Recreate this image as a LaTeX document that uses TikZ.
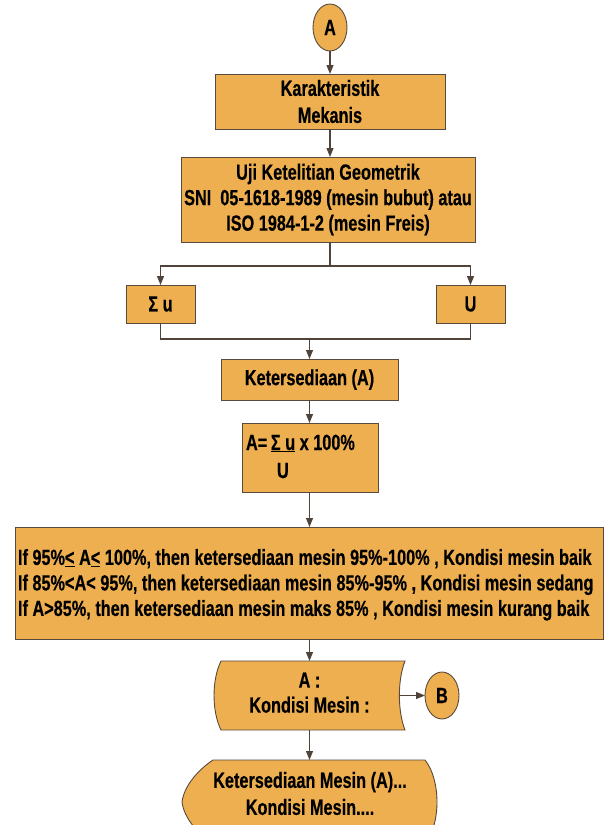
\documentclass[tikz,border=0pt]{standalone}
\usepackage{fontspec}
\setmainfont{Liberation Sans}[FakeStretch=0.74, BoldFeatures={FakeBold=0.4}]
\usetikzlibrary{shapes.geometric,arrows.meta}
\definecolor{orc}{RGB}{238,175,80}
\definecolor{bordc}{RGB}{88,74,60}
\definecolor{linec}{RGB}{80,68,58}
\begin{document}
\begin{tikzpicture}[x=1pt,y=-1pt,
  every node/.style={font=\bfseries\fontsize{22}{26}\selectfont, inner sep=0pt, outer sep=0pt},
  box/.style={draw=bordc, fill=orc, line width=0.9pt, rectangle, align=center},
  conn/.style={draw=bordc, fill=orc, line width=0.9pt, ellipse, minimum width=34pt, minimum height=47pt},
  arr/.style={draw=linec, line width=1.1pt, -{Triangle[length=9pt,width=7pt]}},
  ln/.style={draw=linec, line width=1.1pt},
  shp/.style={draw=bordc, fill=orc, line width=0.9pt}
]
\useasboundingbox (0,0) rectangle (604,825);
\clip (0,0) rectangle (604,825);

\node[conn] (A) at (330,27.5) {A};
\node[box, minimum width=230pt, minimum height=55pt, font=\bfseries\fontsize{22}{27}\selectfont] (kar) at (330,101.5) {Karakteristik\\Mekanis};
\node[box, minimum width=294pt, minimum height=85pt, font=\bfseries\fontsize{22}{25.5}\selectfont] (uji) at (328,199.5) {Uji Ketelitian Geometrik\\SNI\ \ 05-1618-1989 (mesin bubut) atau\\ISO 1984-1-2 (mesin Freis)};
\node[box, minimum width=69pt, minimum height=38pt] (su) at (160.5,304) {Σ u};
\node[box, minimum width=69pt, minimum height=38pt] (U) at (470.5,304) {U};
\node[box, minimum width=177pt, minimum height=41pt] (ket) at (309.5,379.5) {Ketersediaan (A)};
\node[box, minimum width=136pt, minimum height=69pt] (aeq) at (310,457.5) {};
\node[anchor=base west] (aeqt) at (246,450) {A=\,\underline{Σ u} x 100\%};
\node[anchor=base west] (aequ) at (277,478) {U};
\node[box, minimum width=588pt, minimum height=112pt] (wide) at (309,583) {};
\node[anchor=west, align=left, font=\bfseries\fontsize{22}{25.5}\selectfont] (widet) at (18,584.8) {If 95\%\underline{<} A\underline{<} 100\%, then ketersediaan mesin 95\%-100\% , Kondisi mesin baik\\If 85\%<A< 95\%, then ketersediaan mesin 85\%-95\% , Kondisi mesin sedang\\If A>85\%, then ketersediaan mesin maks 85\% , Kondisi mesin kurang baik};

% stored data shape
\path[shp] (221,661) -- (405,661) .. controls (397.5,680) and (397.5,711) .. (405,730) -- (221,730) .. controls (211.7,711) and (211.7,680) .. (221,661) -- cycle;
\node[minimum width=184pt, minimum height=69pt] (sd) at (309.5,695.5) {};
\node[align=center, font=\bfseries\fontsize{22}{25}\selectfont] (sdt) at (309.5,692.7) {A :\\Kondisi Mesin :};
\coordinate (sdR) at (399.5,695.5);
\node[conn] (B) at (442,695.5) {B};

% display / terminal shape
\path[shp] (213,760) -- (425,760) .. controls (433,770) and (437,786) .. (437,802) .. controls (437,818) and (433,834) .. (425,844) -- (213,844) .. controls (198,834) and (184,818) .. (182,802) .. controls (184,786) and (198,770) .. (213,760) -- cycle;
\node[minimum width=212pt, minimum height=67pt, align=center, font=\bfseries\fontsize{22}{27}\selectfont] (term) at (310,793.5) {Ketersediaan Mesin (A)...\\Kondisi Mesin....};

% connectors
\draw[arr] (A) -- (kar);
\draw[arr] (kar) -- (kar.south |- uji.north);
\coordinate (s1) at (330,266);
\draw[ln] (uji.south -| kar.south) -- (s1);
\draw[arr] (s1) -| (su.north);
\draw[arr] (s1) -| (U.north);
\coordinate (j1) at (309.5,339);
\draw[ln] (su.south) |- (j1);
\draw[ln] (U.south) |- (j1);
\draw[arr] (j1) -- (ket.north);
\draw[arr] (ket.south) -- (ket.south |- aeq.north);
\draw[arr] (aeq.south -| ket.south) -- (ket.south |- wide.north);
\draw[arr] (wide.south -| sd.north) -- (sd.north);
\draw[arr] (sdR) -- (B);
\draw[arr] (sd.south) -- (sd.south |- term.north);
\end{tikzpicture}
\end{document}
